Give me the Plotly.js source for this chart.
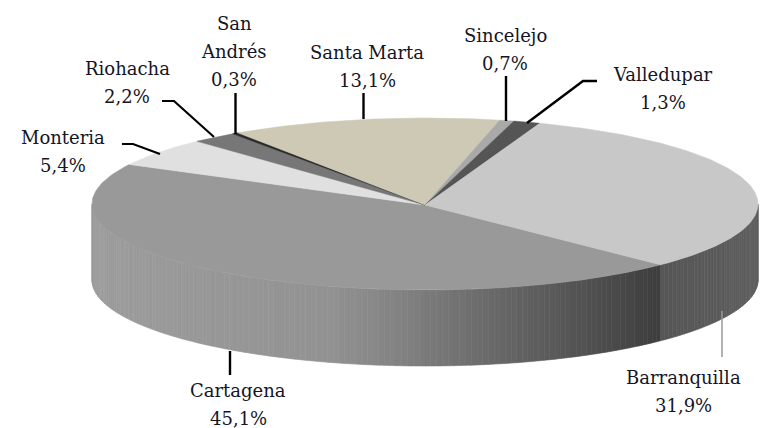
<!DOCTYPE html>
<html>
<head>
<meta charset="utf-8">
<script src="https://cdn.plot.ly/plotly-3.0.1.min.js"></script>
<style>html,body{margin:0;padding:0;background:#fff}#c{width:774px;height:428px}</style>
</head>
<body>
<div id="c"></div>
<script>
// Data, clockwise from the front right edge of the disc
const cities = ["Cartagena","Monteria","Riohacha","San Andrés","Santa Marta","Sincelejo","Valledupar","Barranquilla"];
const shares = [45.1,5.4,2.2,0.3,13.1,0.7,1.3,31.9];
const faceColors = ["#999999","#e0e0e0","#777777","#2a2a2a","#cdc9b5","#a9a9a9","#555555","#c8c8c8"];

// Label layout (name lines, centre x, first line y, line step)
const labelLines = [["Cartagena"],["Monteria"],["Riohacha"],["San","Andrés"],["Santa Marta"],["Sincelejo"],["Valledupar"],["Barranquilla"]];
const labelX = [238,63,127,234,367,505,663,683];
const labelY = [390,137,68,23,52,35,74,377];
const lineStep = 28;
const leaders = [
  {x:[230,230],y:[351,375],c:"#000000",w:2.4},
  {x:[122,133,160],y:[144,144,154],c:"#000000",w:2.2},
  {x:[162,174,214],y:[101,101,137],c:"#000000",w:2.2},
  {x:[235.5,235.5],y:[93,134],c:"#000000",w:2.4},
  {x:[363.5,363.5],y:[93,119],c:"#000000",w:2.4},
  {x:[506,506],y:[76,121],c:"#000000",w:2.4},
  {x:[597,583,527],y:[81,81,123],c:"#000000",w:2.4},
  {x:[722,722],y:[311,357],c:"#9a9a9a",w:1.5}
];

// Disc geometry
const cx=425, cy=204, rx=333, ry=86, depth=76, startDeg=-45;
const rad=d=>d*Math.PI/180;
const px=d=>cx+rx*Math.cos(rad(d));
const py=d=>cy-ry*Math.sin(rad(d));

// Wall shade by x position
const wallStops=[[92,156],[200,152],[330,146],[400,130],[480,108],[560,88],[658,62]];
function wallGrey(x){
  if(x>=660) return Math.round(86+(x-660)/97*8);
  for(let i=1;i<wallStops.length;i++){
    if(x<=wallStops[i][0]){
      const a=wallStops[i-1],b=wallStops[i];
      return Math.round(a[1]+(b[1]-a[1])*(x-a[0])/(b[0]-a[0]));
    }
  }
  return 62;
}
const traces=[];
const base={type:"scatter",mode:"lines",fill:"toself",hoverinfo:"skip",showlegend:false};

// Wall strips
for(let d=-180;d<0;d+=1){
  const e=d+1, xs=[], ys=[];
  xs.push(px(d),px(e),px(e),px(d));
  ys.push(py(d),py(e),py(e)+depth,py(d)+depth);
  xs.push(xs[0]);ys.push(ys[0]);
  const g=wallGrey((px(d)+px(e))/2), col=`rgb(${g},${g},${g})`;
  traces.push({...base,x:xs,y:ys,fillcolor:col,line:{color:col,width:0.6}});
}

// Top face wedges
let ang=startDeg;
shares.forEach((s,i)=>{
  const sweep=s*3.6, xs=[cx], ys=[cy+1];
  for(let k=0;k<=Math.max(2,Math.ceil(sweep));k++){
    const d=ang-sweep*k/Math.max(2,Math.ceil(sweep));
    xs.push(px(d));ys.push(py(d));
  }
  xs.push(cx);ys.push(cy+1);
  traces.push({...base,x:xs,y:ys,fillcolor:faceColors[i],line:{color:faceColors[i],width:0.5}});
  ang-=sweep;
});

// Leader lines
leaders.forEach(l=>traces.push({type:"scatter",mode:"lines",x:l.x,y:l.y,hoverinfo:"skip",showlegend:false,line:{color:l.c,width:l.w}}));

// Labels
const annotations=[];
const font={family:"'DejaVu Serif', serif",size:18,color:"#15151f"};
cities.forEach((c,i)=>{
  const lines=[...labelLines[i],String(shares[i]).replace(".",",")+"%"];
  lines.forEach((t,j)=>annotations.push({x:labelX[i],y:labelY[i]+j*lineStep,xref:"x",yref:"y",text:t,showarrow:false,xanchor:"center",yanchor:"middle",font}));
});

Plotly.newPlot("c",traces,{
  width:774,height:428,margin:{l:0,r:0,t:0,b:0},paper_bgcolor:"#fff",plot_bgcolor:"#fff",
  xaxis:{range:[0,774],visible:false,fixedrange:true},
  yaxis:{range:[428,0],visible:false,fixedrange:true},
  annotations,showlegend:false
},{displayModeBar:false,staticPlot:true});
</script>
</body>
</html>
